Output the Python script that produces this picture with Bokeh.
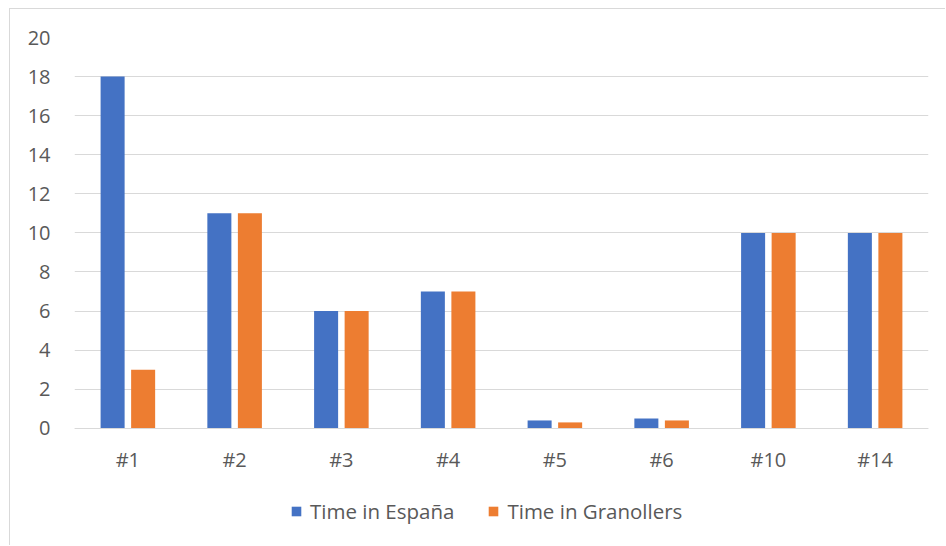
from bokeh.plotting import figure
from bokeh.models import ColumnDataSource, FactorRange, Range1d, Legend, LegendItem, FixedTicker
from bokeh.transform import dodge
from bokeh.embed import file_html
from bokeh.resources import INLINE

# Categories and the two series
categories = ["#1", "#2", "#3", "#4", "#5", "#6", "#10", "#14"]
espana = [18, 11, 6, 7, 0.4, 0.5, 10, 10]
granollers = [3, 11, 6, 7, 0.3, 0.4, 10, 10]
y_ticks = [0, 2, 4, 6, 8, 10, 12, 14, 16, 18, 20]

BLUE = "#4472C4"
ORANGE = "#ED7D31"
GRID = "#D9D9D9"
TEXT = "#595959"
FONT = "Open Sans"

source = ColumnDataSource(dict(cat=categories, espana=espana, granollers=granollers))

# The frame reaches down to the bottom edge so the legend can sit inside it;
# the category axis is pinned at y = 0.
p = figure(
    width=936, height=537,
    x_range=FactorRange(*categories, range_padding=0),
    y_range=Range1d(-6, 20),
    output_backend="svg", toolbar_location=None,
    min_border_left=64, min_border_right=18, min_border_top=28, min_border_bottom=1,
    margin=(8, 0, 0, 9),
    styles={"border-left": f"1px solid {GRID}", "border-top": f"1px solid {GRID}"},
)
p.outline_line_color = None
p.background_fill_color = "white"
p.border_fill_color = "white"

r1 = p.vbar(x=dodge("cat", -0.143, range=p.x_range), top="espana", width=0.225,
            source=source, fill_color=BLUE, line_color=None)
r2 = p.vbar(x=dodge("cat", 0.143, range=p.x_range), top="granollers", width=0.225,
            source=source, fill_color=ORANGE, line_color=None)

# Axes
p.xgrid.grid_line_color = None
p.ygrid.ticker = FixedTicker(ticks=y_ticks)
p.ygrid.grid_line_color = GRID
p.ygrid.grid_line_width = 1

p.yaxis.ticker = FixedTicker(ticks=y_ticks)
p.yaxis.axis_line_color = None
p.yaxis.major_tick_line_color = None
p.yaxis.minor_tick_line_color = None
p.yaxis.major_label_standoff = 18
p.yaxis.major_label_text_font = FONT
p.yaxis.major_label_text_font_size = "20px"
p.yaxis.major_label_text_color = TEXT

p.xaxis.fixed_location = 0
p.xaxis.axis_line_color = GRID
p.xaxis.axis_line_width = 1
p.xaxis.major_tick_line_color = None
p.xaxis.minor_tick_line_color = None
p.xaxis.major_label_standoff = 12
p.xaxis.major_label_text_font = FONT
p.xaxis.major_label_text_font_size = "20px"
p.xaxis.major_label_text_color = TEXT

legend = Legend(
    items=[LegendItem(label="Time in España", renderers=[r1]),
           LegendItem(label="Time in Granollers", renderers=[r2])],
    orientation="horizontal",
    location=(216, 20),
    glyph_width=12, glyph_height=12,
    label_standoff=8, spacing=33, padding=0, margin=0,
    label_text_font=FONT, label_text_font_size="20.5px", label_text_color=TEXT,
    border_line_color=None, background_fill_alpha=0,
)
p.add_layout(legend, "center")

open("out.html", "w").write(file_html(p, INLINE))
